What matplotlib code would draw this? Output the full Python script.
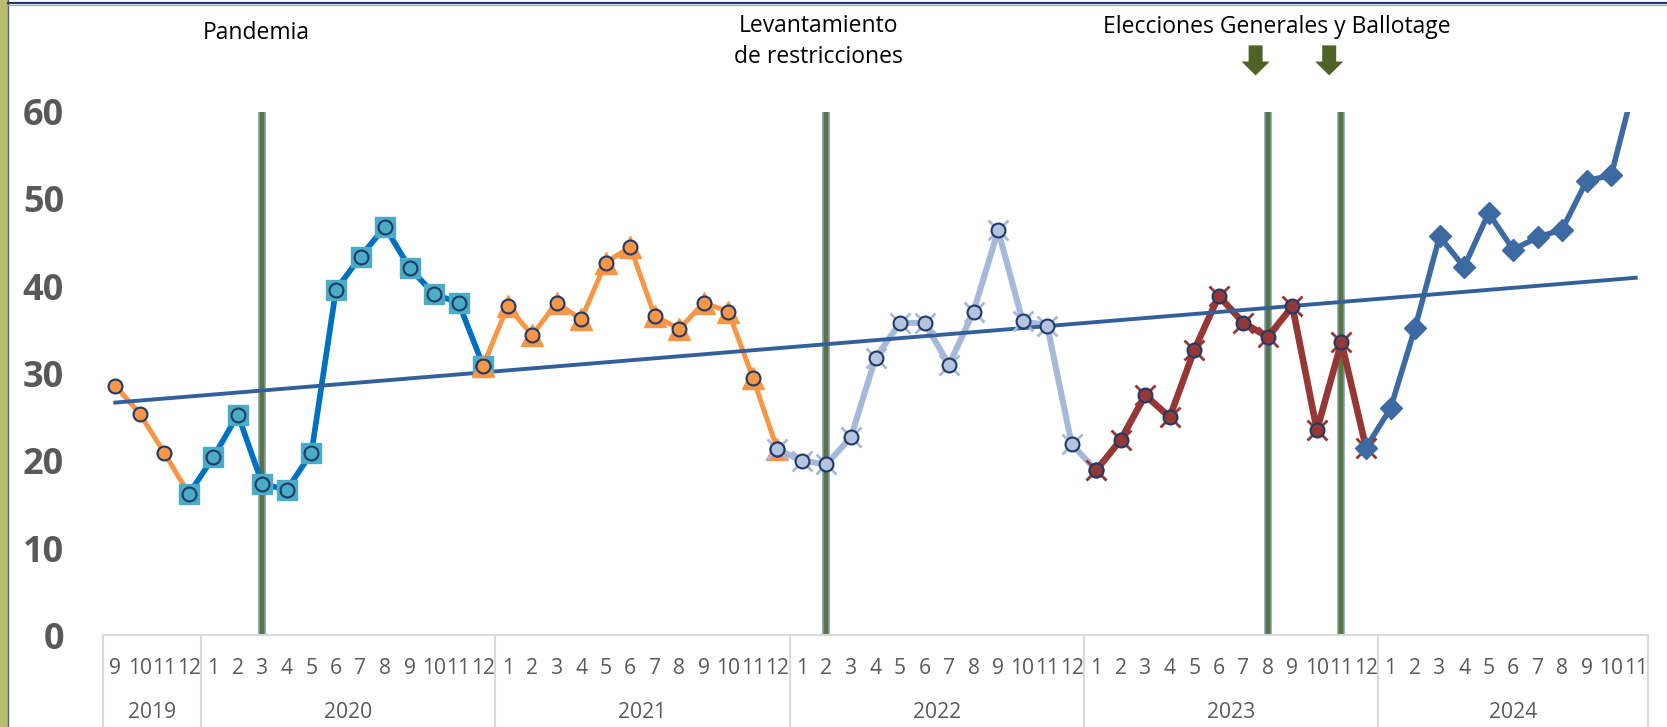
import numpy as np
import matplotlib
matplotlib.use("Agg")
import matplotlib.pyplot as plt
from matplotlib.patches import Rectangle, FancyArrow
from matplotlib.lines import Line2D

# ---------------- data ----------------
years = ["2019", "2020", "2021", "2022", "2023", "2024"]
months_per_year = [
    [9, 10, 11, 12],
    list(range(1, 13)),
    list(range(1, 13)),
    list(range(1, 13)),
    list(range(1, 13)),
    list(range(1, 12)),
]

values = [
    28.6, 25.4, 20.9, 16.2,                                   # 2019 9-12
    20.4, 25.3, 17.3, 16.7, 20.9, 39.6, 43.4, 46.8, 42.1, 39.1, 38.1, 30.9,   # 2020
    37.7, 34.4, 38.1, 36.2, 42.7, 44.5, 36.6, 35.1, 38.1, 37.1, 29.5, 21.3,   # 2021
    20.0, 19.6, 22.7, 31.8, 35.8, 35.8, 31.0, 37.1, 46.4, 36.0, 35.5, 21.9,   # 2022
    18.9, 22.4, 27.5, 25.0, 32.7, 38.9, 35.8, 34.2, 37.7, 23.5, 33.6, 21.5,   # 2023
    26.0, 35.2, 45.7, 42.2, 48.4, 44.2, 45.6, 46.5, 52.1, 52.7, 63.7,         # 2024 1-11
]

# coloured segments: (first label, last label) inclusive
segments = [
    ("2019-9", "2019-12"),
    ("2019-12", "2020-12"),
    ("2020-12", "2021-12"),
    ("2021-12", "2023-1"),
    ("2023-1", "2023-12"),
    ("2023-12", "2024-11"),
]

events = ["2020-3", "2022-2", "2023-8", "2023-11"]
arrow_events = ["2023-8", "2023-11"]

annotations = ["Pandemia", "Levantamiento\nde restricciones", "Elecciones Generales y Ballotage"]

# ---------------- helpers ----------------
keys = [f"{y}-{m}" for y, ms in zip(years, months_per_year) for m in ms]
month_labels = [str(m) for ms in months_per_year for m in ms]
idx = {k: i for i, k in enumerate(keys)}
x = np.arange(len(values))
y = np.array(values)

W, H = 1667, 727
fig = plt.figure(figsize=(W / 100, H / 100), dpi=100)
fig.patch.set_facecolor("white")

ax_left, ax_right = 103, 1648
ax_bottom, ax_top = 635.3, 111.7
ax = fig.add_axes([ax_left / W, 1 - ax_bottom / H, (ax_right - ax_left) / W, (ax_bottom - ax_top) / H])
ax.set_xlim(-0.5, len(values) - 0.5)
ax.set_ylim(0, 60)

FONT = "Open Sans"
GRAY = "#595959"
NAVY = "#203A68"

# event lines
for e in events:
    xi = idx[e]
    ax.vlines(xi, 0, 60, colors="#7396CC", linewidth=5.4, zorder=2)
    ax.vlines(xi, 0, 60, colors="#5E7730", linewidth=3.2, zorder=2.1)

styles = [
    dict(lc="#F79646", lw=3.6, under=None, circ="#F79646"),
    dict(lc="#0070C0", lw=4.1, under=("s", "#4BACC6", 14.5, 1), circ="#4BACC6"),
    dict(lc="#F79646", lw=3.6, under=("^", "#F79646", 15.5, 1), circ="#F79646"),
    dict(lc="#A7B9D9", lw=4.4, under=("x", "#A7B9D9", 14, 2.0), circ="#B4C4DF"),
    dict(lc="#953735", lw=4.8, under=("x", "#953735", 14, 2.0), circ="#953735"),
    dict(lc="#3D6AA3", lw=4.0, under=("D", "#3D6AA3", 11, 1), circ=None),
]

for (a, b), st in zip(segments, styles):
    i0, i1 = idx[a], idx[b]
    xs, ys = x[i0:i1 + 1], y[i0:i1 + 1]
    ax.plot(xs, ys, color=st["lc"], linewidth=st["lw"], solid_joinstyle="round",
            solid_capstyle="round", zorder=3)
    if st["under"] is not None:
        mk, col, ms, mew = st["under"]
        ax.plot(xs, ys, linestyle="none", marker=mk, markersize=ms,
                markerfacecolor=col, markeredgecolor=col, markeredgewidth=mew, zorder=5)
    if st["circ"] is not None:
        ax.plot(xs, ys, linestyle="none", marker="o", markersize=10,
                markerfacecolor=st["circ"], markeredgecolor=NAVY, markeredgewidth=1.5, zorder=5)

# linear trend (least squares over all points)
slope, intercept = np.polyfit(x, y, 1)
xt = np.array([x[0], x[-1]])
ax.plot(xt, slope * xt + intercept, color="#33609A", linewidth=2.8, zorder=4)

# arrows over election lines
for e in arrow_events:
    xi = idx[e] - 0.5
    ax.add_patch(FancyArrow(xi, 67.6, 0, -3.45, width=0.57, head_width=1.15, head_length=1.6,
                            length_includes_head=True, color="#4F6228", clip_on=False,
                            linewidth=0, zorder=6))

# axes styling
for s in ["left", "right", "top"]:
    ax.spines[s].set_visible(False)
ax.spines["bottom"].set_color("#D9D9D9")
ax.spines["bottom"].set_linewidth(1.5)

ax.set_yticks(range(0, 61, 10))
ax.set_yticklabels([str(v) for v in range(0, 61, 10)], fontfamily=FONT, fontweight="bold",
                   fontsize=26, color=GRAY)
ax.tick_params(axis="y", length=0, pad=28)

ax.set_xticks(x)
ax.set_xticklabels(month_labels, fontfamily=FONT, fontsize=15.2, color=GRAY)
ax.tick_params(axis="x", length=0, pad=16)

# category group separators & year labels
trans = ax.get_xaxis_transform()
bounds = [-0.5]
start = 0
for ms in months_per_year:
    start += len(ms)
    bounds.append(start - 0.5)
for bx in bounds:
    ax.add_line(Line2D([bx, bx], [0, -0.3], transform=trans, color="#D9D9D9", linewidth=1.5,
                       clip_on=False))
start = 0
for yr, ms in zip(years, months_per_year):
    c = start + (len(ms) - 1) / 2
    ax.text(c, -0.148, yr, transform=trans, ha="center", va="center", fontfamily=FONT,
            fontsize=15.2, color=GRAY)
    start += len(ms)

# annotations (figure pixel placement)
def ftxt(px, py, s):
    fig.text(px / W, 1 - py / H, s, ha="center", va="baseline", fontfamily=FONT,
             fontsize=16.5, color="black")

ftxt(256, 39, annotations[0])
ftxt(818, 63 - 30.5, annotations[1].split("\n")[0])
ftxt(818, 63, annotations[1].split("\n")[1])
ftxt(1277, 33, annotations[2])

# slide frame decorations
fig.add_artist(Rectangle((0, 0), 7 / W, 1, transform=fig.transFigure, color="#B9BC6E", zorder=0))
fig.add_artist(Line2D([7.5 / W, 7.5 / W], [0, 1], transform=fig.transFigure, color="#41639A", linewidth=1))
fig.add_artist(Line2D([8 / W, 1], [1 - 3 / H, 1 - 3 / H], transform=fig.transFigure, color="#203A60", linewidth=1.6))
fig.add_artist(Line2D([8 / W, 1], [1 - 4.8 / H, 1 - 4.8 / H], transform=fig.transFigure, color="#8FA6C8", linewidth=0.8))

fig.savefig("out.png", dpi=100, facecolor="white")
